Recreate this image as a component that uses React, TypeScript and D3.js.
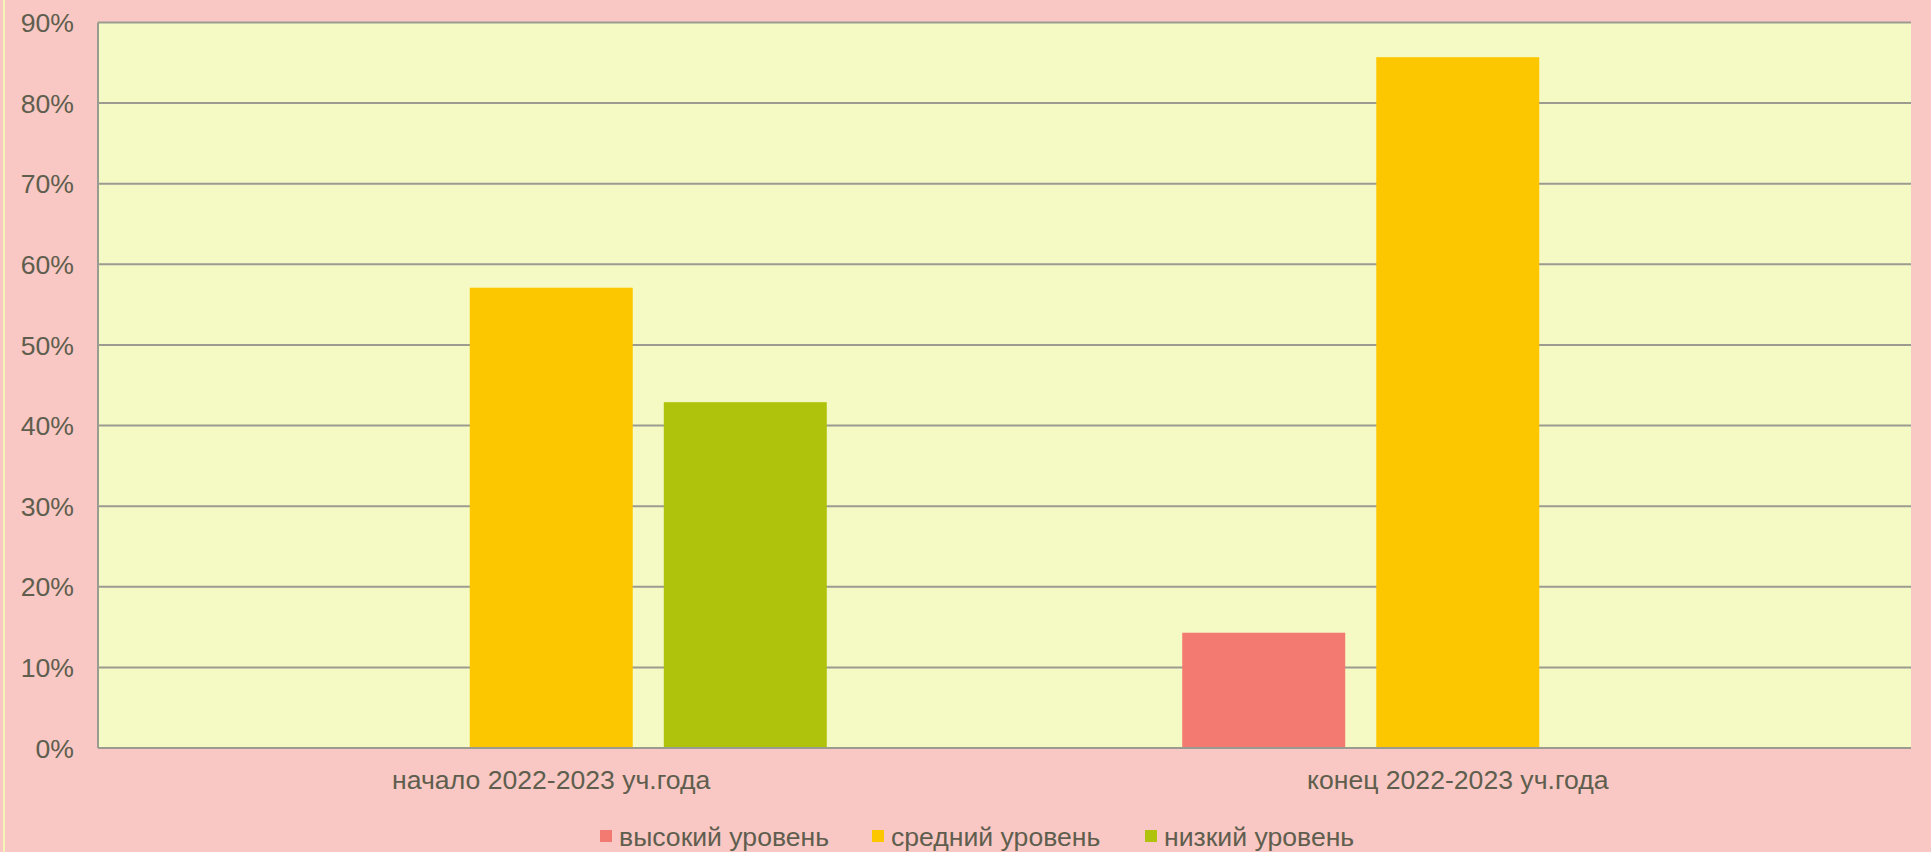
import React from 'react'
import * as d3 from 'd3'

const categories = ['начало 2022-2023 уч.года', 'конец 2022-2023 уч.года']
const seriesNames = ['высокий уровень', 'средний уровень', 'низкий уровень']
const seriesColors = ['#F27A70', '#FDC700', '#AFC30C']
// values per series, one per category (share of children)
const highLevel = [0, 0.143]
const midLevel = [0.571, 0.857]
const lowLevel = [0.429, 0]
const yTicks = [0, 0.1, 0.2, 0.3, 0.4, 0.5, 0.6, 0.7, 0.8, 0.9]

const seriesValues = [highLevel, midLevel, lowLevel]

export default function App() {
  const width = 1931
  const height = 852
  const margin = { top: 22.5, right: 20, bottom: 104, left: 98 }
  const textColor = '#5f5e4e'
  const font = '"Liberation Sans", Arial, sans-serif'
  const fontSize = 26.6

  const x0 = d3.scaleBand()
    .domain(categories)
    .range([margin.left, width - margin.right])
    .padding(0)

  const x1 = d3.scaleBand()
    .domain(seriesNames)
    .range([0, x0.bandwidth()])
    .paddingInner(0.16)
    .paddingOuter(0.916)

  const y = d3.scaleLinear()
    .domain([0, 0.9])
    .range([height - margin.bottom, margin.top])

  const fmt = d3.format('.0%')

  // legend layout: square + label per item
  const legendX = [600, 872, 1145]

  return (
    <>
      <style>{'body{margin:0}'}</style>
      <svg width={width} height={height} style={{ display: 'block', fontFamily: font }}>
        <rect x={0} y={0} width={width} height={height} fill="#F9C8C4" />
        <line x1={4} x2={4} y1={0} y2={height} stroke="#F3F6B4" strokeWidth={2} />
        <rect
          x={margin.left}
          y={margin.top}
          width={width - margin.left - margin.right}
          height={height - margin.top - margin.bottom}
          fill="#F5FAC5"
        />
        {yTicks.map((t) => (
          <g key={t}>
            <line
              x1={margin.left}
              x2={width - margin.right}
              y1={y(t)}
              y2={y(t)}
              stroke="#9b9b90"
              strokeWidth={2}
            />
            <text
              x={74}
              y={y(t)}
              dy="0.36em"
              textAnchor="end"
              fontSize={fontSize}
              fill={textColor}
            >
              {fmt(t)}
            </text>
          </g>
        ))}
        <line
          x1={margin.left}
          x2={margin.left}
          y1={margin.top}
          y2={height - margin.bottom}
          stroke="#9b9b90"
          strokeWidth={2}
        />
        {categories.map((c, ci) => (
          <g key={c} transform={`translate(${x0(c)},0)`}>
            {seriesNames.map((s, si) => {
              const v = seriesValues[si][ci]
              if (!v) return null
              return (
                <rect
                  key={s}
                  x={x1(s)}
                  y={y(v)}
                  width={x1.bandwidth()}
                  height={y(0) - y(v)}
                  fill={seriesColors[si]}
                />
              )
            })}
            <text
              x={x0.bandwidth() / 2}
              y={789}
              textAnchor="middle"
              fontSize={fontSize}
              fill={textColor}
            >
              {c}
            </text>
          </g>
        ))}
        <line
          x1={margin.left}
          x2={width - margin.right}
          y1={y(0)}
          y2={y(0)}
          stroke="#9b9b90"
          strokeWidth={2}
        />
        {seriesNames.map((s, i) => (
          <g key={s} transform={`translate(${legendX[i]},836)`}>
            <rect x={0} y={-6} width={12} height={12} fill={seriesColors[i]} />
            <text x={19} y={0} dy="0.36em" fontSize={fontSize} fill={textColor}>
              {s}
            </text>
          </g>
        ))}
      </svg>
    </>
  )
}
